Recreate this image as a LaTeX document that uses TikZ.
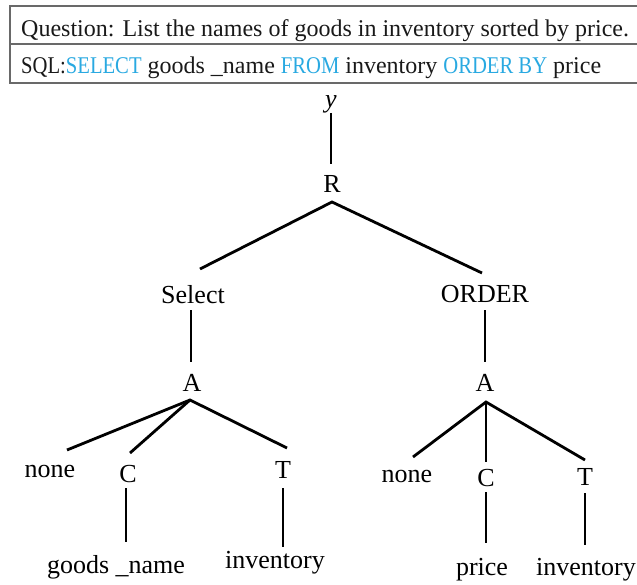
\documentclass[tikz,border=0pt]{standalone}
\usepackage{fontspec}
\setmainfont{Liberation Serif}
\usepackage{graphicx}
\usetikzlibrary{calc}

\definecolor{kwblue}{RGB}{41,169,225}
\definecolor{framegray}{RGB}{105,105,105}
\definecolor{hdrtext}{RGB}{25,25,25}
% keywords of the query: blue, slightly condensed capitals
\newcommand{\sqlkw}[1]{\textcolor{kwblue}{\scalebox{0.86}[1]{#1}}}
\newcommand{\sqlcaps}[1]{\scalebox{0.86}[1]{#1}}

\begin{document}
\begin{tikzpicture}[x=1pt,y=-1pt,
  lbl/.style={font=\fontsize{26}{26}\selectfont, inner sep=0pt, anchor=base},
  hdr/.style={font=\fontsize{24}{24}\selectfont, text=hdrtext, inner sep=0pt, anchor=base west},
  edge/.style={line width=2.8pt, line cap=butt, line join=miter},
  frame/.style={draw=framegray, line width=2pt}]
\useasboundingbox (0,0) rectangle (637,585);

% header table with question and query
\draw[frame] (637,6) -- (10,6) -- (10,83) -- (637,83);
\draw[frame] (10,44) -- (637,44);
\node[hdr] (question) at (21,37) {Question: List the names of goods in inventory sorted by price.};
\node[hdr] (query) at (21,74) {\sqlcaps{SQL:}\sqlkw{SELECT} goods \_name \sqlkw{FROM} inventory \sqlkw{ORDER BY} price};

% syntax tree nodes
\node[lbl, font=\fontsize{26}{26}\selectfont\itshape] (y) at (331,108) {y};
\node[lbl] (R) at (332,193) {R};
\node[lbl] (sel) at (193,304) {Select};
\node[lbl] (ord) at (485,302) {ORDER};
\node[lbl] (aL) at (192,391) {A};
\node[lbl] (aR) at (485,391) {A};
\node[lbl] (nL) at (50,477) {none};
\node[lbl] (cL) at (128,482) {C};
\node[lbl] (tL) at (283,478) {T};
\node[lbl] (gn) at (116,573) {goods \_name};
\node[lbl] (invL) at (275,568) {inventory};
\node[lbl] (nR) at (407,482) {none};
\node[lbl] (cR) at (486,486) {C};
\node[lbl] (tR) at (585,485) {T};
\node[lbl] (pr) at (482,575) {price};
\node[lbl] (invR) at (586,575) {inventory};

% tree edges
\draw[edge] ($(y.base)+(0,5)$) -- ($(R.base)+(-1,-29)$);
\draw[edge] ($(sel.base)+(7,-35)$) -- ($(R.base)+(0,9)$) -- ($(ord.base)+(-3,-29)$);
\draw[edge] ($(sel.base)+(-2,6)$) -- ($(aL.base)+(-1,-29)$);
\draw[edge] ($(ord.base)+(0,8)$) -- ($(aR.base)+(0,-29)$);

\draw[edge] ($(nL.base)+(17,-27)$) -- ($(aL.base)+(-2,9)$) -- ($(tL.base)+(4,-30)$);
\draw[edge] ($(aL.base)+(-2,9)$) -- ($(cL.base)+(2,-29)$);
\draw[edge] ($(nR.base)+(6,-25)$) -- ($(aR.base)+(1,11)$) -- ($(tR.base)+(0,-25)$);
\draw[edge] ($(aR.base)+(1,11)$) -- ($(cR.base)+(0,-24)$);

\draw[edge] ($(cL.base)+(-2,6)$) -- ($(gn.base)+(10,-31)$);
\draw[edge] ($(tL.base)+(0,10)$) -- ($(invL.base)+(8,-21)$);
\draw[edge] ($(cR.base)+(0,6)$) -- ($(pr.base)+(4,-32)$);
\draw[edge] ($(tR.base)+(0,8)$) -- ($(invR.base)+(-1,-30)$);
\end{tikzpicture}
\end{document}
